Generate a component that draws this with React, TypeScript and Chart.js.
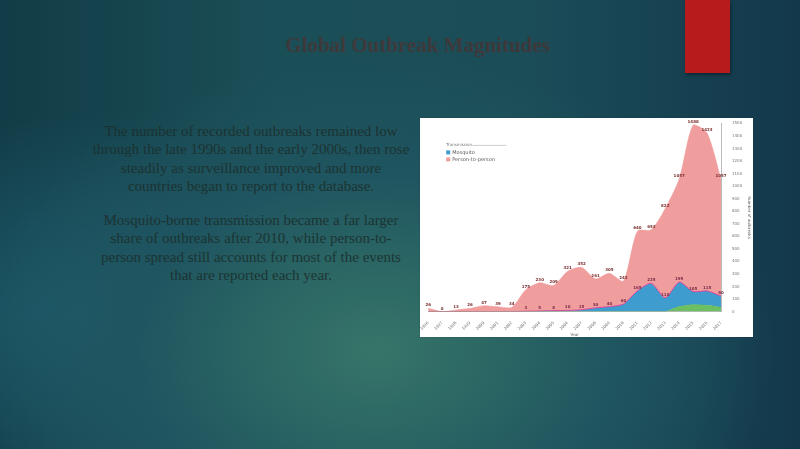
import React, { useEffect, useRef } from "react";
import { Chart, registerables } from "chart.js";

Chart.register(...registerables);

const years = [
  "1996", "1997", "1998", "1999", "2000", "2001", "2002", "2003", "2004", "2005", "2006",
  "2007", "2008", "2009", "2010", "2011", "2012", "2013", "2014", "2015", "2016", "2017",
];
const otherValues = [0, 0, 0, 0, 0, 0, 0, 0, 0, 0, 0, 0, 0, 0, 0, 0, 0, 0, 40, 55, 50, 35];
const mosquitoValues = [0, 0, 0, 0, 0, 0, 0, 3, 5, 8, 10, 15, 30, 40, 60, 165, 225, 110, 195, 105, 115, 90];
const personValues = [26, 0, 13, 26, 47, 39, 34, 172, 225, 201, 311, 337, 231, 265, 183, 475, 428, 712, 822, 1328, 1258, 932];
const totalLabels = [26, 0, 13, 26, 47, 39, 34, 175, 230, 209, 321, 352, 261, 305, 243, 640, 653, 822, 1057, 1488, 1423, 1057];
const legendItems = ["Mosquito", "Person-to-person"];
const legendColors = ["#3f9ccf", "#f09d9d"];
const yTicksMax = 1500;
const yStep = 100;

const valueLabelPlugin = {
  id: "valueLabels",
  afterDatasetsDraw(chart: any) {
    const ctx = chart.ctx;
    ctx.save();
    ctx.font = "bold 4px 'DejaVu Sans'";
    ctx.textAlign = "center";
    ctx.textBaseline = "bottom";
    ctx.fillStyle = "#7a2e2e";
    const meta = chart.getDatasetMeta(2);
    meta.data.forEach((pt: any, i: number) => {
      ctx.fillText(String(totalLabels[i]), pt.x, pt.y - 1);
    });
    const metaB = chart.getDatasetMeta(1);
    ctx.fillStyle = "#7a2e4a";
    metaB.data.forEach((pt: any, i: number) => {
      if (mosquitoValues[i] > 0) ctx.fillText(String(mosquitoValues[i]), pt.x, pt.y - 1);
    });
    // legend
    const x0 = chart.chartArea.left + 18;
    const y0 = chart.chartArea.top + 22;
    ctx.font = "4px 'DejaVu Sans'";
    ctx.textAlign = "left";
    ctx.textBaseline = "middle";
    ctx.fillStyle = "#777";
    ctx.fillText("Transmission", x0, y0);
    ctx.strokeStyle = "#aaa";
    ctx.lineWidth = 0.6;
    ctx.beginPath();
    ctx.moveTo(x0 + 26, y0);
    ctx.lineTo(x0 + 60, y0);
    ctx.stroke();
    legendItems.forEach((t, i) => {
      const yy = y0 + 7 + i * 7;
      ctx.fillStyle = legendColors[i];
      ctx.fillRect(x0, yy - 2, 4, 4);
      ctx.fillStyle = "#555";
      ctx.font = "5px 'DejaVu Sans'";
      ctx.fillText(t, x0 + 6, yy);
    });
    ctx.restore();
  },
};

function ChartBox() {
  const ref = useRef<HTMLCanvasElement>(null);
  useEffect(() => {
    if (!ref.current) return;
    const chart = new Chart(ref.current, {
      type: "line",
      data: {
        labels: years,
        datasets: [
          {
            label: "Other",
            data: otherValues,
            fill: "origin",
            backgroundColor: "#6cc062",
            borderColor: "#5ab050",
            borderWidth: 0.5,
            pointRadius: 0,
            tension: 0.25,
          },
          {
            label: "Mosquito",
            data: mosquitoValues,
            fill: "-1",
            backgroundColor: "#3f9ccf",
            borderColor: "#e0459a",
            borderWidth: 1,
            pointRadius: 0,
            tension: 0.25,
          },
          {
            label: "Person-to-person",
            data: personValues,
            fill: "-1",
            backgroundColor: "#f09d9d",
            borderColor: "#f09d9d",
            borderWidth: 0.5,
            pointRadius: 0,
            tension: 0.25,
          },
        ],
      },
      options: {
        animation: false,
        responsive: true,
        maintainAspectRatio: false,
        layout: { padding: { left: 2, top: 3, right: 1, bottom: 0 } },
        plugins: {
          legend: { display: false },
          tooltip: { enabled: false },
        },
        scales: {
          x: {
            grid: { display: false },
            border: { color: "#bbb" },
            ticks: {
              font: { size: 4, family: "DejaVu Sans" },
              color: "#777",
              maxRotation: 45,
              minRotation: 45,
              autoSkip: false,
              padding: 1,
            },
            title: {
              display: true,
              text: "Year",
              font: { size: 4, family: "DejaVu Sans" },
              color: "#666",
              padding: 0,
            },
          },
          y: {
            position: "right",
            stacked: true,
            min: 0,
            max: yTicksMax,
            grid: { display: false },
            border: { color: "#bbb" },
            ticks: {
              stepSize: yStep,
              font: { size: 4, family: "DejaVu Sans" },
              color: "#777",
              padding: 3,
              callback: (v: any) => String(v),
            },
            title: {
              display: true,
              text: "Number of outbreaks",
              font: { size: 4, family: "DejaVu Sans" },
              color: "#666",
              padding: 1,
            },
          },
        },
      },
      plugins: [valueLabelPlugin],
    } as any);
    return () => chart.destroy();
  }, []);
  return <canvas ref={ref} />;
}

export default function App() {
  return (
    <div
      style={{
        position: "fixed",
        left: 0,
        top: 0,
        width: 800,
        height: 449,
        overflow: "hidden",
        background:
          "radial-gradient(ellipse 50% 65% at 47% 78%, #377569 0%, #2b6664 30%, #1f5560 60%, rgba(22,64,80,0) 100%), radial-gradient(ellipse 35% 45% at 10% 70%, #1e5b6b 0%, rgba(29,90,106,0) 100%), linear-gradient(90deg, #123c47 0%, #1b4f57 35%, #1b4d58 65%, #13384c 100%)",
        fontFamily: "'Liberation Serif', serif",
      }}
    >
      <div
        style={{
          position: "absolute",
          left: 685,
          top: 0,
          width: 45,
          height: 73,
          background: "#b81b1b",
          boxShadow: "1px 2px 3px rgba(0,0,0,0.4)",
        }}
      />
      <div
        style={{
          position: "absolute",
          left: 200,
          top: 30,
          width: 435,
          textAlign: "center",
          fontSize: 21,
          fontWeight: "bold",
          color: "#4a3232",
          opacity: 0.75,
          lineHeight: "30px",
        }}
      >
        Global Outbreak Magnitudes
      </div>
      <div
        style={{
          position: "absolute",
          left: 92,
          top: 122,
          width: 318,
          textAlign: "center",
          fontSize: 15,
          lineHeight: "18.3px",
          color: "#1c302e",
          opacity: 0.9,
        }}
      >
        <p style={{ margin: 0 }}>
          The number of recorded outbreaks remained low through the late 1990s and the early 2000s, then
          rose steadily as surveillance improved and more countries began to report to the database.
        </p>
        <p style={{ margin: "16px 0 0 0" }}>
          Mosquito-borne transmission became a far larger share of outbreaks after 2010, while
          person-to-person spread still accounts for most of the events that are reported each year.
        </p>
      </div>
      <div
        style={{
          position: "absolute",
          left: 420,
          top: 118,
          width: 333,
          height: 219,
          background: "#ffffff",
          boxShadow: "0 0 1px rgba(0,0,0,0.3)",
        }}
      >
        <ChartBox />
      </div>
    </div>
  );
}
